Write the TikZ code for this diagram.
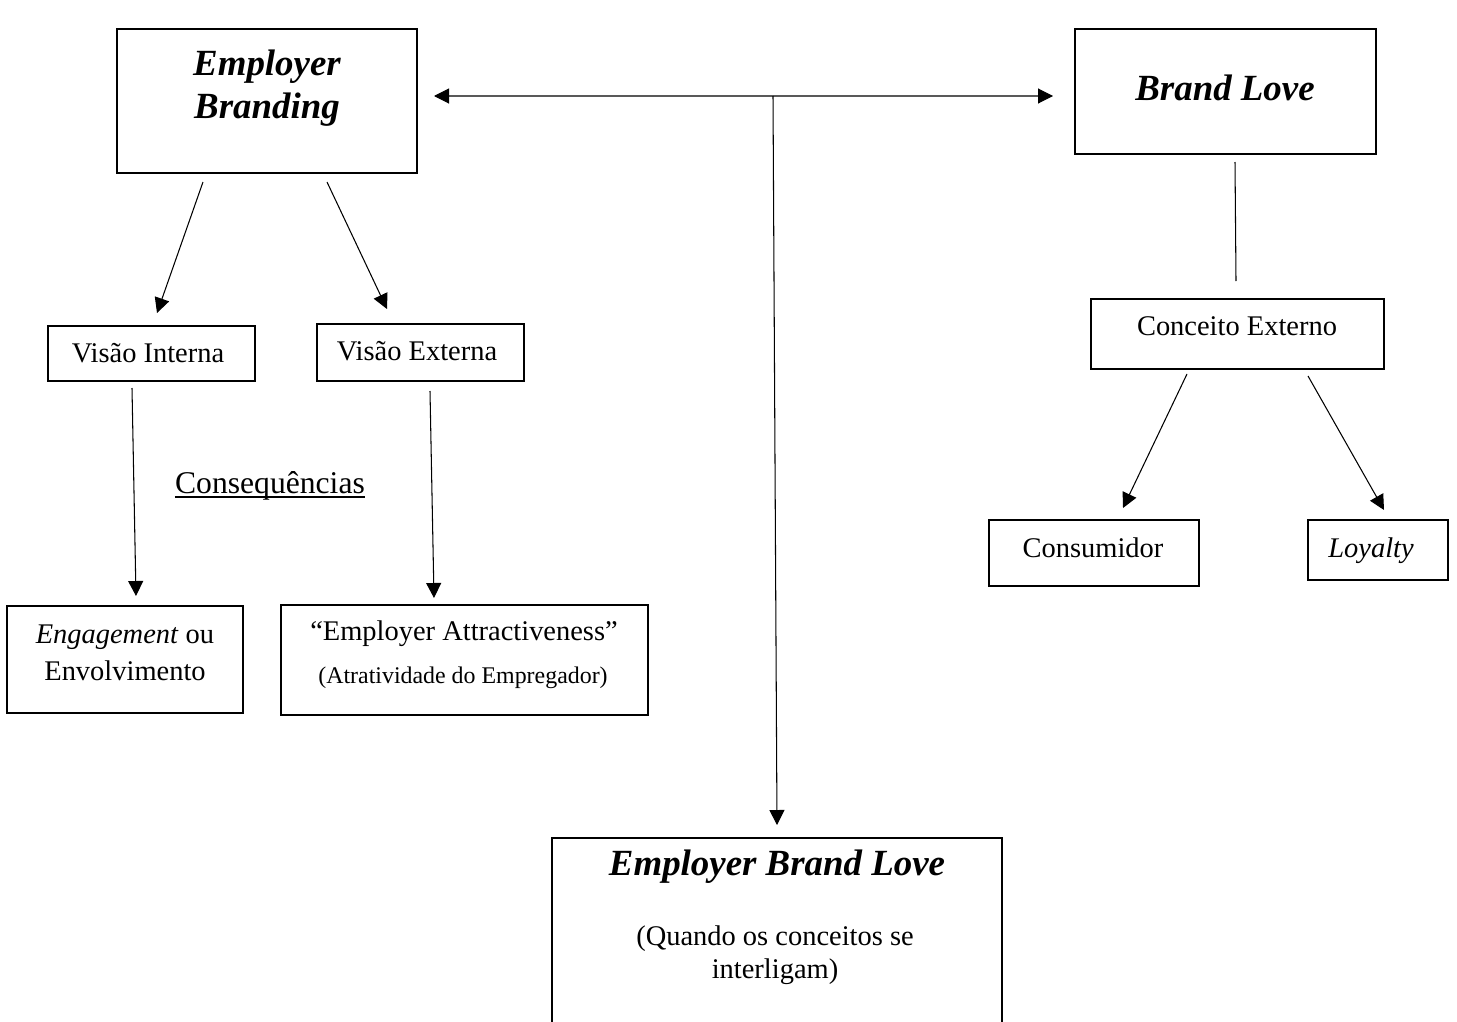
\documentclass[tikz,border=0pt]{standalone}
\usepackage{fontspec}
\setmainfont{Liberation Serif}
\usetikzlibrary{arrows.meta,calc}
\newcommand\pbox[5]{\node[box,minimum width={(#4-#2)*0.02cm},minimum height={(#5-#3)*0.02cm}] (#1) at ({(#2+#4)/2},{(#3+#5)/2}) {};}
\begin{document}
\begin{tikzpicture}[x=0.02cm,y=-0.02cm,
 box/.style={draw,line width=1pt,rectangle,inner sep=0pt,outer sep=0pt},
 conn/.style={line width=0.6pt},
 arr/.style={conn,-{Triangle[length=0.3cm,width=0.3cm]}},
 both/.style={conn,{Triangle[length=0.3cm,width=0.3cm]}-{Triangle[length=0.3cm,width=0.3cm]}},
 ttl/.style={font=\fontsize{21}{25}\selectfont\bfseries\itshape,anchor=base,inner sep=0pt},
 txt/.style={font=\fontsize{16.2}{19}\selectfont,anchor=base,inner sep=0pt},
 small/.style={font=\fontsize{13.6}{16}\selectfont,anchor=base,inner sep=0pt}]
\fill[white] (0,0) rectangle (1457,1021);
\useasboundingbox (0,0) rectangle (1457,1021);
\clip (0,0) rectangle (1457,1021);

% boxes
\pbox{eb}{117}{29}{417}{173}
\pbox{bl}{1075}{29}{1376}{154}
\pbox{ebl}{552}{838}{1002}{1060}
\pbox{vi}{48}{326}{255}{381}
\pbox{ve}{317}{324}{524}{381}
\pbox{eng}{7}{606}{243}{713}
\pbox{att}{281}{605}{648}{715}
\pbox{ce}{1091}{299}{1384}{369}
\pbox{con}{989}{520}{1199}{586}
\pbox{loy}{1308}{520}{1448}{580}

% texts
\node[ttl] (ebt1) at (267,75) {Employer};
\node[ttl] (ebt2) at (267,118) {Branding};
\node[ttl] (blt) at (1225,100) {Brand Love};
\node[ttl] (eblt) at (777,875) {Employer Brand Love};
\node[txt] (eblq1) at (775,945) {(Quando os conceitos se};
\node[txt] (eblq2) at (775,978) {interligam)};
\node[txt] (vit) at (148,362) {Visão Interna};
\node[txt] (vet) at (417,360) {Visão Externa};
\node[txt,font=\fontsize{18}{21}\selectfont] (cons) at (270,493) {Consequências};
\draw[line width=1.1pt] ($(cons.base west)+(0,4)$) -- ($(cons.base east)+(0,4)$);
\node[txt] (engt1) at (125,643) {\textit{Engagement} ou};
\node[txt] (engt2) at (125,680) {Envolvimento};
\node[txt] (att1) at (464,640) {“Employer Attractiveness”};
\node[small] (att2) at (463,683) {(Atratividade do Empregador)};
\node[txt] (cet) at (1237,335) {Conceito Externo};
\node[txt] (cont) at (1093,557) {Consumidor};
\node[txt,font=\fontsize{16.2}{19}\selectfont\itshape] (loyt) at (1371,557) {Loyalty};

% connectors
\coordinate (jn) at (773,96);
\draw[both] ($(eb.east)+(17,-5)$) -- ($(bl.west)+(-22,4.5)$);
\draw[arr] (jn) -- ($(ebl.north)+(0,-13)$);
\draw[arr] ($(eb.south)+(-64,9)$) -- ($(vi.north)+(5.5,-13)$);
\draw[arr] ($(eb.south)+(60,9)$) -- ($(ve.north)+(-33.5,-15)$);
\draw[arr] ($(vi.south)+(-19.5,7)$) -- ($(eng.north)+(11,-10)$);
\draw[arr] ($(ve.south)+(9.5,10)$) -- ($(att.north)+(-30.5,-7)$);
\draw[conn] ($(bl.south)+(9.5,8)$) -- ($(ce.north)+(-1.5,-18)$);
\draw[arr] ($(ce.south)+(-50.5,5)$) -- ($(con.north)+(29,-12)$);
\draw[arr] ($(ce.south)+(70.5,7)$) -- ($(loy.north)+(6,-10)$);
\end{tikzpicture}
\end{document}
